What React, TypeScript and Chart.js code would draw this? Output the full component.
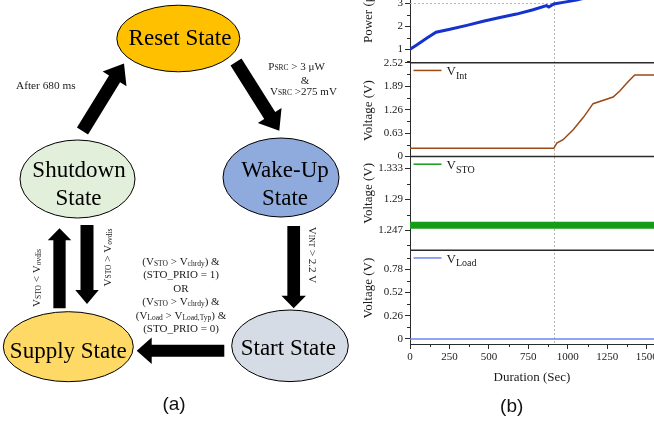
import { useEffect, useRef } from 'react';
import { Chart, registerables } from 'chart.js';

Chart.register(...registerables);

// Shared time axis (seconds)
const durationTicks = [0, 250, 500, 750, 1000, 1250, 1500];
const durationMax = 1546;

// Harvested source power (µW)
const powerTime = [0, 40, 105, 165, 253, 360, 464, 570, 675, 780, 865, 880, 890, 911, 980, 1055, 1200, 1380, 1546];
const powerValue = [1.0, 1.18, 1.48, 1.74, 1.87, 2.04, 2.22, 2.38, 2.53, 2.72, 2.9, 2.84, 2.88, 2.97, 3.05, 3.14, 3.38, 3.66, 3.92];
const powerTicks = [1, 2, 3, 4];

// Internal node voltage V_Int (V)
const intTime = [0, 911, 930, 970, 1034, 1100, 1160, 1287, 1329, 1380, 1424, 1546];
const intValue = [0.22, 0.22, 0.36, 0.45, 0.72, 1.06, 1.42, 1.6, 1.76, 2.0, 2.19, 2.19];
const intTicks = [0, 0.63, 1.26, 1.89, 2.52];

// Storage voltage V_STO (V)
const stoTime = [0, 1546];
const stoValue = [1.2535, 1.2535];
const stoTicks = [1.247, 1.29, 1.333];

// Load voltage V_Load (V)
const loadTime = [0, 1546];
const loadValue = [0, 0];
const loadTicks = [0, 0.26, 0.52, 0.78];

// Wake-up instant and the power level reached there
const wakeUpTime = 910;
const wakeUpPower = 3;

const SERIF = '"Liberation Serif", "Times New Roman", serif';
const SANS = '"Liberation Sans", Arial, sans-serif';
const AXIS = '#2b2b2b';
const TEXT = '#1a1a1a';

const C_POWER = '#1533cc';
const C_INT = '#9b4a16';
const C_STO = '#169c16';
const C_LOAD = '#6d86ec';

type Seg = { t: string; size: number; dy?: number };

function drawSegs(ctx: CanvasRenderingContext2D, segs: Seg[], x: number, y: number, align: 'left' | 'center' | 'right') {
  let total = 0;
  const widths = segs.map((s) => {
    ctx.font = `${s.size}px ${SERIF}`;
    const w = ctx.measureText(s.t).width;
    total += w;
    return w;
  });
  let cx = align === 'center' ? x - total / 2 : align === 'right' ? x - total : x;
  ctx.textAlign = 'left';
  ctx.textBaseline = 'alphabetic';
  segs.forEach((s, i) => {
    ctx.font = `${s.size}px ${SERIF}`;
    ctx.fillText(s.t, cx, y + (s.dy || 0));
    cx += widths[i];
  });
}

function blockArrow(ctx: CanvasRenderingContext2D, x1: number, y1: number, x2: number, y2: number, shaft: number, head: number, headLen: number) {
  const dx = x2 - x1;
  const dy = y2 - y1;
  const len = Math.hypot(dx, dy);
  const ux = dx / len;
  const uy = dy / len;
  const nx = -uy;
  const ny = ux;
  const bx = x2 - ux * headLen;
  const by = y2 - uy * headLen;
  const s = shaft / 2;
  const h = head / 2;
  ctx.beginPath();
  ctx.moveTo(x1 + nx * s, y1 + ny * s);
  ctx.lineTo(bx + nx * s, by + ny * s);
  ctx.lineTo(bx + nx * h, by + ny * h);
  ctx.lineTo(x2, y2);
  ctx.lineTo(bx - nx * h, by - ny * h);
  ctx.lineTo(bx - nx * s, by - ny * s);
  ctx.lineTo(x1 - nx * s, y1 - ny * s);
  ctx.closePath();
  ctx.fill();
}

// State machine of the power manager, drawn on its own canvas
const diagramPlugin = {
  id: 'stateDiagram',
  afterDraw(chart: any) {
    const ctx: CanvasRenderingContext2D = chart.ctx;
    ctx.save();
    const states = [
      { cx: 178.3, cy: 38.5, rx: 61.5, ry: 33.3, fill: '#FFC000', lines: [['Reset State', 180, 45]] },
      { cx: 77.5, cy: 179, rx: 57.5, ry: 39, fill: '#E2EFDA', lines: [['Shutdown', 79, 177], ['State', 78.5, 205]] },
      { cx: 281, cy: 177.5, rx: 58, ry: 39.5, fill: '#8FAADC', lines: [['Wake-Up', 285, 177], ['State', 285, 205]] },
      { cx: 68.3, cy: 346.7, rx: 65, ry: 35, fill: '#FFD966', lines: [['Supply State', 68.3, 358.3]] },
      { cx: 290, cy: 345.8, rx: 58.3, ry: 35.8, fill: '#D6DCE5', lines: [['Start State', 288.3, 355]] },
    ];
    states.forEach((s) => {
      ctx.beginPath();
      ctx.ellipse(s.cx, s.cy, s.rx, s.ry, 0, 0, Math.PI * 2);
      ctx.fillStyle = s.fill;
      ctx.fill();
      ctx.lineWidth = 1;
      ctx.strokeStyle = '#000';
      ctx.stroke();
      ctx.fillStyle = '#000';
      ctx.font = `23px ${SERIF}`;
      ctx.textAlign = 'center';
      ctx.textBaseline = 'alphabetic';
      s.lines.forEach((l) => ctx.fillText(l[0] as string, l[1] as number, l[2] as number));
    });

    ctx.fillStyle = '#000';
    blockArrow(ctx, 82.5, 131, 124, 63.5, 13, 28, 18);
    blockArrow(ctx, 236, 62, 279.3, 130.7, 13, 28, 18);
    blockArrow(ctx, 293.7, 226, 293.7, 308.3, 12.7, 24.5, 12.5);
    blockArrow(ctx, 224.3, 350.8, 136.7, 350.8, 12, 26.6, 15);
    blockArrow(ctx, 59.5, 308.3, 59.5, 228.3, 12.3, 23.5, 12);
    blockArrow(ctx, 87, 225, 87, 304, 13, 23.5, 14);

    ctx.fillStyle = TEXT;
    const M = 11;
    const S = 7.5;
    drawSegs(ctx, [{ t: 'After 680 ms', size: 11.3 }], 16, 89.3, 'left');
    drawSegs(ctx, [{ t: 'P', size: M }, { t: 'SRC', size: S }, { t: ' > 3 μW', size: M }], 268.3, 70, 'left');
    drawSegs(ctx, [{ t: '&', size: M }], 305, 84, 'center');
    drawSegs(ctx, [{ t: 'V', size: M }, { t: 'SRC', size: S }, { t: ' >275 mV', size: M }], 270, 95, 'left');

    const block: Seg[][] = [
      [{ t: '(V', size: M }, { t: 'STO', size: S, dy: 0.5 }, { t: ' > V', size: M }, { t: 'chrdy', size: S, dy: 1 }, { t: ') &', size: M }],
      [{ t: '(STO_PRIO = 1)', size: M }],
      [{ t: 'OR', size: M }],
      [{ t: '(V', size: M }, { t: 'STO', size: S, dy: 0.5 }, { t: ' > V', size: M }, { t: 'chrdy', size: S, dy: 1 }, { t: ') &', size: M }],
      [{ t: '(V', size: M }, { t: 'Load', size: S, dy: 0.5 }, { t: ' > V', size: M }, { t: 'Load,Typ', size: S, dy: 1 }, { t: ') &', size: M }],
      [{ t: '(STO_PRIO = 0)', size: M }],
    ];
    const baselines = [265, 278.3, 291.7, 305, 319, 332.3];
    block.forEach((segs, i) => drawSegs(ctx, segs, 181, baselines[i], 'center'));

    const vertical = (segs: Seg[], x: number, y: number, angle: number) => {
      ctx.save();
      ctx.translate(x, y);
      ctx.rotate(angle);
      drawSegs(ctx, segs, 0, 4, 'center');
      ctx.restore();
    };
    vertical([{ t: 'V', size: M }, { t: 'STO', size: S, dy: 0.5 }, { t: ' < V', size: M }, { t: 'ovdis', size: S, dy: 1 }], 36, 278, -Math.PI / 2);
    vertical([{ t: 'V', size: M }, { t: 'STO', size: S, dy: 0.5 }, { t: ' > V', size: M }, { t: 'ovdis', size: S, dy: 1 }], 106.7, 257.5, -Math.PI / 2);
    vertical([{ t: 'V', size: M }, { t: 'INT', size: S, dy: 0.5 }, { t: ' > 2.2 V', size: M }], 313.3, 255, Math.PI / 2);

    ctx.font = `19px ${SANS}`;
    ctx.fillStyle = '#111';
    ctx.textAlign = 'center';
    ctx.textBaseline = 'middle';
    ctx.fillText('(a)', 174, 405);
    ctx.restore();
  },
};

function minorValues(ticks: number[], min: number, max: number) {
  const out: number[] = [];
  const step = ticks[1] - ticks[0];
  for (let i = -1; i < ticks.length; i++) {
    const v = ticks[0] + step * (i + 0.5);
    if (v > min && v < max) out.push(v);
  }
  return out;
}

const yRanges: Record<string, { ticks: number[]; min: number; max: number }> = {
  yPow: { ticks: powerTicks, min: 0.415, max: 4.49 },
  yInt: { ticks: intTicks, min: 0, max: 2.52 },
  ySTO: { ticks: stoTicks, min: 1.2188, max: 1.3494 },
  yLoad: { ticks: loadTicks, min: -0.056, max: 0.993 },
};

// Panel frames, minor ticks, in-panel legends and axis titles
const panelPlugin = {
  id: 'panels',
  beforeDatasetsDraw(chart: any) {
    const { ctx, chartArea, scales } = chart;
    ctx.save();
    ctx.strokeStyle = '#b4b4b4';
    ctx.lineWidth = 1;
    ctx.setLineDash([2, 2]);
    const mx = Math.round(scales.x.getPixelForValue(wakeUpTime)) + 0.5;
    ctx.beginPath();
    ctx.moveTo(mx, chartArea.top);
    ctx.lineTo(mx, chartArea.bottom);
    ctx.stroke();
    const py = Math.round(scales.yPow.getPixelForValue(wakeUpPower)) + 0.5;
    ctx.beginPath();
    ctx.moveTo(chartArea.left, py);
    ctx.lineTo(mx, py);
    ctx.stroke();
    ctx.restore();
  },
  afterDraw(chart: any) {
    const { ctx, chartArea, scales } = chart;
    ctx.save();
    // separators between stacked panels
    ctx.strokeStyle = AXIS;
    ctx.lineWidth = 1.3;
    ['yInt', 'ySTO', 'yLoad'].forEach((id) => {
      const y = scales[id].top;
      ctx.beginPath();
      ctx.moveTo(chartArea.left, y);
      ctx.lineTo(chartArea.right, y);
      ctx.stroke();
    });
    // minor ticks
    ctx.lineWidth = 1;
    Object.keys(yRanges).forEach((id) => {
      const r = yRanges[id];
      minorValues(r.ticks, r.min, r.max).forEach((v) => {
        const y = Math.round(scales[id].getPixelForValue(v)) + 0.5;
        ctx.beginPath();
        ctx.moveTo(chartArea.left - 3, y);
        ctx.lineTo(chartArea.left, y);
        ctx.stroke();
      });
    });
    minorValues(durationTicks, 0, durationMax).forEach((v) => {
      const x = Math.round(scales.x.getPixelForValue(v)) + 0.5;
      ctx.beginPath();
      ctx.moveTo(x, chartArea.bottom);
      ctx.lineTo(x, chartArea.bottom + 3);
      ctx.stroke();
    });
    // legends
    const legends = [
      { id: 'yInt', color: C_INT, sub: 'Int' },
      { id: 'ySTO', color: C_STO, sub: 'STO' },
      { id: 'yLoad', color: C_LOAD, sub: 'Load' },
    ];
    legends.forEach((l) => {
      const y = scales[l.id].top + 7.7;
      ctx.strokeStyle = l.color;
      ctx.lineWidth = 1.5;
      ctx.beginPath();
      ctx.moveTo(chartArea.left + 3.5, y);
      ctx.lineTo(chartArea.left + 31.5, y);
      ctx.stroke();
      ctx.fillStyle = TEXT;
      drawSegs(ctx, [{ t: 'V', size: 13 }, { t: l.sub, size: 10, dy: 3.5 }], chartArea.left + 36.5, y + 5, 'left');
    });
    // axis titles
    const titles = [
      { id: 'yPow', text: 'Power (μW)', dy: -5 },
      { id: 'yInt', text: 'Voltage (V)', dy: 1 },
      { id: 'ySTO', text: 'Voltage (V)', dy: -10 },
      { id: 'yLoad', text: 'Voltage (V)', dy: -9 },
    ];
    ctx.fillStyle = TEXT;
    ctx.font = `13px ${SERIF}`;
    titles.forEach((t) => {
      const s = scales[t.id];
      ctx.save();
      ctx.translate(19, (s.top + s.bottom) / 2 + t.dy);
      ctx.rotate(-Math.PI / 2);
      ctx.textAlign = 'center';
      ctx.textBaseline = 'middle';
      ctx.fillText(t.text, 0, 0);
      ctx.restore();
    });
    ctx.font = `19px ${SANS}`;
    ctx.fillStyle = '#111';
    ctx.textAlign = 'center';
    ctx.textBaseline = 'middle';
    ctx.fillText('(b)', 161.7, 446.7);
    ctx.restore();
  },
};

function yScale(id: string, weight: number) {
  const r = yRanges[id];
  return {
    type: 'linear' as const,
    position: 'left' as const,
    stack: 'panels',
    stackWeight: 1,
    weight,
    min: r.min,
    max: r.max,
    afterBuildTicks: (s: any) => {
      s.ticks = r.ticks.map((v) => ({ value: v }));
    },
    afterFit: (s: any) => {
      s.width = 60;
    },
    ticks: {
      font: { family: SERIF, size: 11 },
      color: TEXT,
      padding: 2,
      autoSkip: false,
      callback: (v: any) => String(v),
    },
    grid: { drawOnChartArea: false, tickLength: 5, tickColor: AXIS, tickWidth: 1 },
    border: { display: true, color: AXIS, width: 1 },
  };
}

const series = (t: number[], v: number[]) => t.map((x, i) => ({ x, y: v[i] }));

export default function App() {
  const diagRef = useRef<HTMLCanvasElement>(null);
  const plotRef = useRef<HTMLCanvasElement>(null);

  useEffect(() => {
    const diagram = new Chart(diagRef.current!, {
      type: 'scatter',
      data: { datasets: [] },
      options: {
        animation: false,
        responsive: false,
        events: [],
        plugins: { legend: { display: false }, tooltip: { enabled: false } },
        scales: { x: { display: false }, y: { display: false } },
      },
      plugins: [diagramPlugin],
    });

    const plot = new Chart(plotRef.current!, {
      type: 'line',
      data: {
        datasets: [
          { data: series(powerTime, powerValue), yAxisID: 'yPow', borderColor: C_POWER, borderWidth: 3, pointRadius: 0, tension: 0 },
          { data: series(intTime, intValue), yAxisID: 'yInt', borderColor: C_INT, borderWidth: 1.5, pointRadius: 0, tension: 0 },
          { data: series(stoTime, stoValue), yAxisID: 'ySTO', borderColor: C_STO, borderWidth: 7, pointRadius: 0, tension: 0 },
          { data: series(loadTime, loadValue), yAxisID: 'yLoad', borderColor: C_LOAD, borderWidth: 1.5, pointRadius: 0, tension: 0 },
        ],
      },
      options: {
        animation: false,
        responsive: false,
        events: [],
        layout: { padding: { left: 0, right: 26, top: 9, bottom: 0 } },
        plugins: { legend: { display: false }, tooltip: { enabled: false } },
        scales: {
          x: {
            type: 'linear',
            min: 0,
            max: durationMax,
            afterBuildTicks: (s: any) => {
              s.ticks = durationTicks.map((v) => ({ value: v }));
            },
            afterFit: (s: any) => {
              s.height = 79;
            },
            ticks: {
              font: { family: SERIF, size: 11 },
              color: TEXT,
              padding: 2,
              maxRotation: 0,
              autoSkip: false,
              callback: (v: any) => String(v),
            },
            grid: { drawOnChartArea: false, tickLength: 5, tickColor: AXIS },
            border: { display: true, color: AXIS, width: 1 },
            title: {
              display: true,
              text: 'Duration (Sec)',
              font: { family: SERIF, size: 13 },
              color: TEXT,
              padding: { top: 0, bottom: 38 },
            },
          },
          yLoad: yScale('yLoad', 1),
          ySTO: yScale('ySTO', 2),
          yInt: yScale('yInt', 3),
          yPow: yScale('yPow', 4),
        } as any,
      },
      plugins: [panelPlugin],
    });

    return () => {
      diagram.destroy();
      plot.destroy();
    };
  }, []);

  return (
    <div style={{ position: 'fixed', left: 0, top: 0, width: 654, height: 423, overflow: 'hidden', background: '#fff' }}>
      <div style={{ position: 'absolute', left: 0, top: 0, width: 350, height: 423 }}>
        <canvas ref={diagRef} width={350} height={423} style={{ display: 'block' }} />
      </div>
      <div style={{ position: 'absolute', left: 350, top: -40, width: 330, height: 463 }}>
        <canvas ref={plotRef} width={330} height={463} style={{ display: 'block' }} />
      </div>
    </div>
  );
}
